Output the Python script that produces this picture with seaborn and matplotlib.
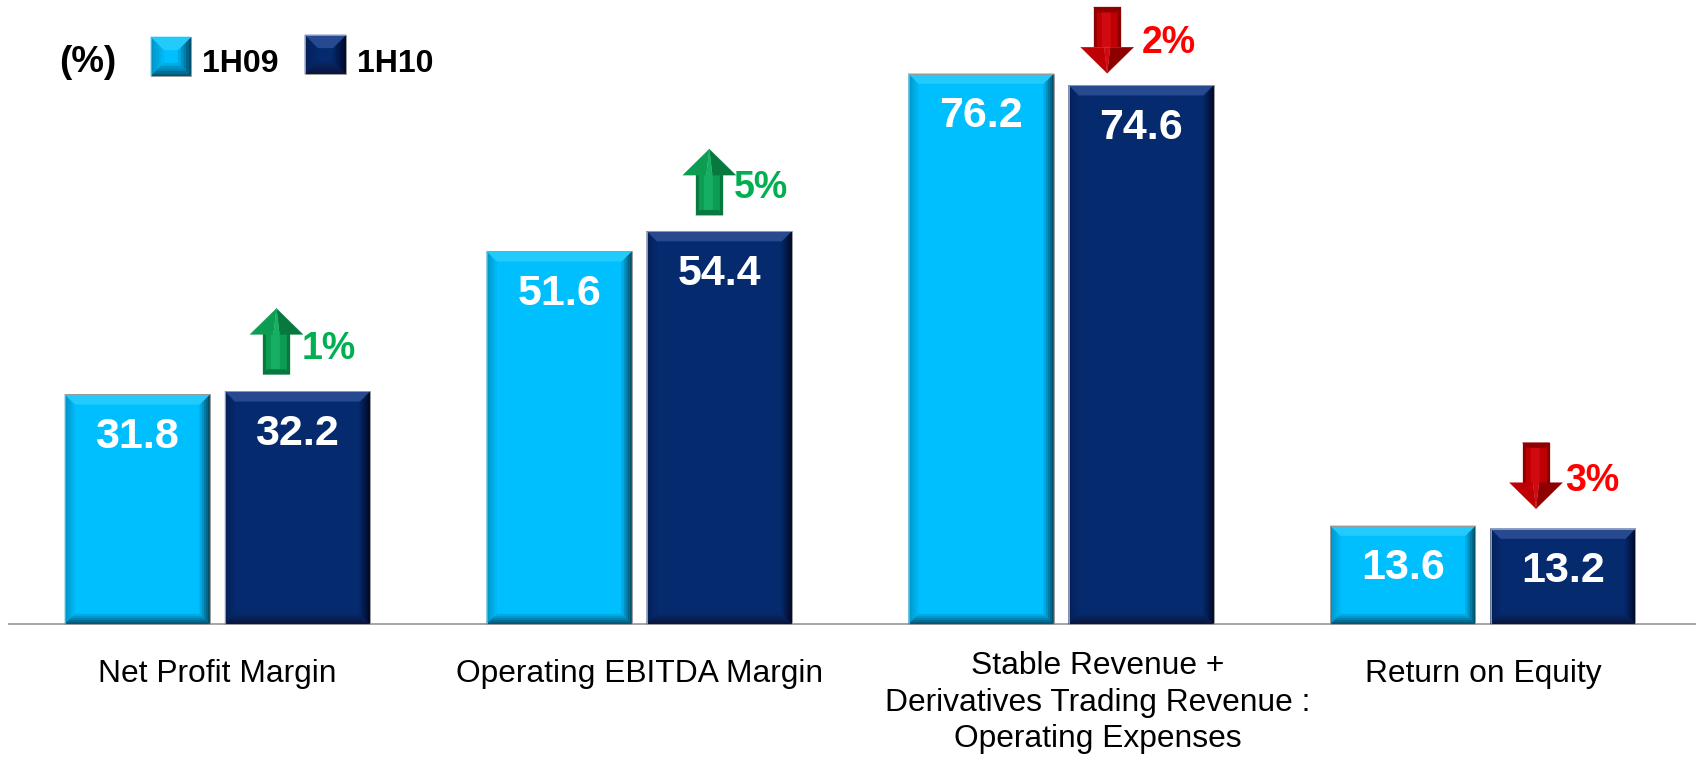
import numpy as np
import pandas as pd
import matplotlib
matplotlib.use('Agg')
import matplotlib.pyplot as plt
import seaborn as sns
from matplotlib.colors import to_rgb
from matplotlib.patches import Polygon
from matplotlib.transforms import Affine2D

categories = ['Net Profit Margin', 'Operating EBITDA Margin',
              'Stable Revenue +\nDerivatives Trading Revenue :\nOperating Expenses',
              'Return on Equity']
values_1h09 = [31.8, 51.6, 76.2, 13.6]
values_1h10 = [32.2, 54.4, 74.6, 13.2]
changes = ['1%', '5%', '2%', '3%']
directions = ['up', 'up', 'down', 'down']

# arrow placement in pixels, relative to the 1H10 bar: x shift, gap above bar, label dx, label dy
arrow_layout = [(-21, 17, 25, 8), (-10, 16, 25, 6), (-34, 12, 35, 3), (-27, 20, 29, 5)]

W, H = 1696, 757
LIGHT = {'face': '#00BFFF', 'top': '#22CBFB', 'left': '#0094C4', 'right': '#004F6C', 'bottom': '#00587A'}
DARK = {'face': '#052A6E', 'top': '#26498F', 'left': '#04205A', 'right': '#000A2C', 'bottom': '#0A1640'}
GREEN = ('#0C9C52', '#16AE62', '#07793F', '#00B050')
RED = ('#BE0004', '#D00A10', '#8E0000', '#FF0000')

plt.rcParams['font.family'] = ['Liberation Sans', 'DejaVu Sans']

df = pd.DataFrame({'category': categories * 2,
                   'value': values_1h09 + values_1h10,
                   'period': ['1H09'] * 4 + ['1H10'] * 4})

fig = plt.figure(figsize=(W / 100, H / 100), dpi=100)
ax = fig.add_axes([8.6 / W, (H - 624) / H, 1 - 8.6 / W, 624 / H])
sns.barplot(data=df, x='category', y='value', hue='period', ax=ax, width=0.759, gap=0.095,
            palette={'1H09': LIGHT['face'], '1H10': DARK['face']}, legend=False, saturation=1)
ax.set_xlim(-0.495, 3.505)
ax.set_ylim(0, 86.4)
ax.set_xlabel('')
ax.set_ylabel('')
ax.set_yticks([])
sns.despine(ax=ax, left=True)
ax.spines['bottom'].set_color('#A6A6A6')
ax.spines['bottom'].set_linewidth(1.4)
ax.tick_params(axis='x', length=0, labelsize=22.9, pad=25.5)
ax.xaxis.get_major_ticks()[2].set_pad(19.5)
for lab in ax.get_xticklabels():
    lab.set_linespacing(1.29)
# the long label sits right of its group in the original
lab = ax.xaxis.get_major_ticks()[2].label1
lab.set_transform(lab.get_transform() + Affine2D().translate(37, 0))

for cont in ax.containers:
    ax.bar_label(cont, fmt='%.1f', padding=-45, color='white', fontsize=31, fontweight='bold')

# everything decorative is placed in pixels from the top left
px = Affine2D().scale(1, -1).translate(0, H)


def shape(pts, c, z=3):
    fig.add_artist(Polygon(pts, closed=True, fc=c, ec=c, lw=0.2, transform=px, zorder=z))


def bevel(x0, y0, x1, y1, col, b=10):
    face = np.array(to_rgb(col['face']))
    steps = 5
    for i in range(steps):
        d0, d1 = b * i / steps, b * (i + 1) / steps
        t = i / steps
        mix = {k: tuple(np.array(to_rgb(col[k])) * (1 - t) + face * t) for k in ['left', 'right', 'bottom']}
        shape([(x0 + d0, y0 + d0), (x0 + d1, y0 + d1), (x0 + d1, y1 - d1), (x0 + d0, y1 - d0)], mix['left'])
        shape([(x1 - d0, y0 + d0), (x1 - d1, y0 + d1), (x1 - d1, y1 - d1), (x1 - d0, y1 - d0)], mix['right'])
        shape([(x0 + d0, y1 - d0), (x1 - d0, y1 - d0), (x1 - d1, y1 - d1), (x0 + d1, y1 - d1)], mix['bottom'])
    shape([(x0, y0), (x1, y0), (x1 - b, y0 + b), (x0 + b, y0 + b)], col['top'])
    fig.add_artist(Polygon([(x0, y0), (x1, y0), (x1, y1), (x0, y1)], closed=True, fc='none',
                           ec='#9A9A9A', lw=0.7, transform=px, zorder=3))


def bar_box(bar):
    (a, b), (c, d) = ax.transData.transform([(bar.get_x(), bar.get_height()),
                                             (bar.get_x() + bar.get_width(), 0)])
    return a, H - b, c, H - d


def arrow(cx, top, colors, up=True):
    # 66 px tall, head 53 wide, shaft 27 wide
    s = 1 if up else -1
    tip = top if up else top + 66
    tail = top + 66 if up else top
    neck = tip + s * 26
    main, light, dark, _ = colors
    for a, b, c in [(-13.5, -10.5, dark), (-10.5, -5, main), (-5, 4, light), (4, 10.5, main), (10.5, 13.5, dark)]:
        shape([(cx + a, neck), (cx + b, neck), (cx + b, tail), (cx + a, tail)], c, 4)
    shape([(cx - 13.5, tail), (cx + 13.5, tail), (cx + 9, tail - s * 5), (cx - 9, tail - s * 5)], dark, 4)
    shape([(cx, tip), (cx - 26.5, neck), (cx - 3, neck)], main, 4)
    shape([(cx, tip), (cx + 26.5, neck), (cx + 3, neck)], dark, 4)
    shape([(cx, tip), (cx - 3, neck), (cx + 3, neck)], light, 4)


fig.canvas.draw()
for cont, col in zip(ax.containers, [LIGHT, DARK]):
    for bar in cont:
        bevel(*bar_box(bar), col)

for bar, chg, d, (sx, gap, ldx, ldy) in zip(ax.containers[1], changes, directions, arrow_layout):
    x0, y0, x1, y1 = bar_box(bar)
    cx = (x0 + x1) / 2 + sx
    top = y0 - gap - 66
    colors = GREEN if d == 'up' else RED
    arrow(cx, top, colors, up=d == 'up')
    fig.text(cx + ldx, top + 33 + ldy, chg, transform=px, color=colors[3], fontsize=27,
             fontweight='bold', va='center', ha='left', zorder=5)

# legend
fig.text(59, 63, '(%)', transform=px, fontsize=26.5, fontweight='bold', va='center', ha='left', color='black')
shape([(151, 37), (191, 37), (191, 76), (151, 76)], LIGHT['face'])
bevel(151, 37, 191, 76, LIGHT, b=13)
fig.text(202, 64, '1H09', transform=px, fontsize=23, fontweight='bold', va='center', ha='left', color='black')
shape([(305, 35), (346, 35), (346, 74), (305, 74)], DARK['face'])
bevel(305, 35, 346, 74, DARK, b=13)
fig.text(357, 64, '1H10', transform=px, fontsize=23, fontweight='bold', va='center', ha='left', color='black')

fig.savefig('out.png', dpi=100)
